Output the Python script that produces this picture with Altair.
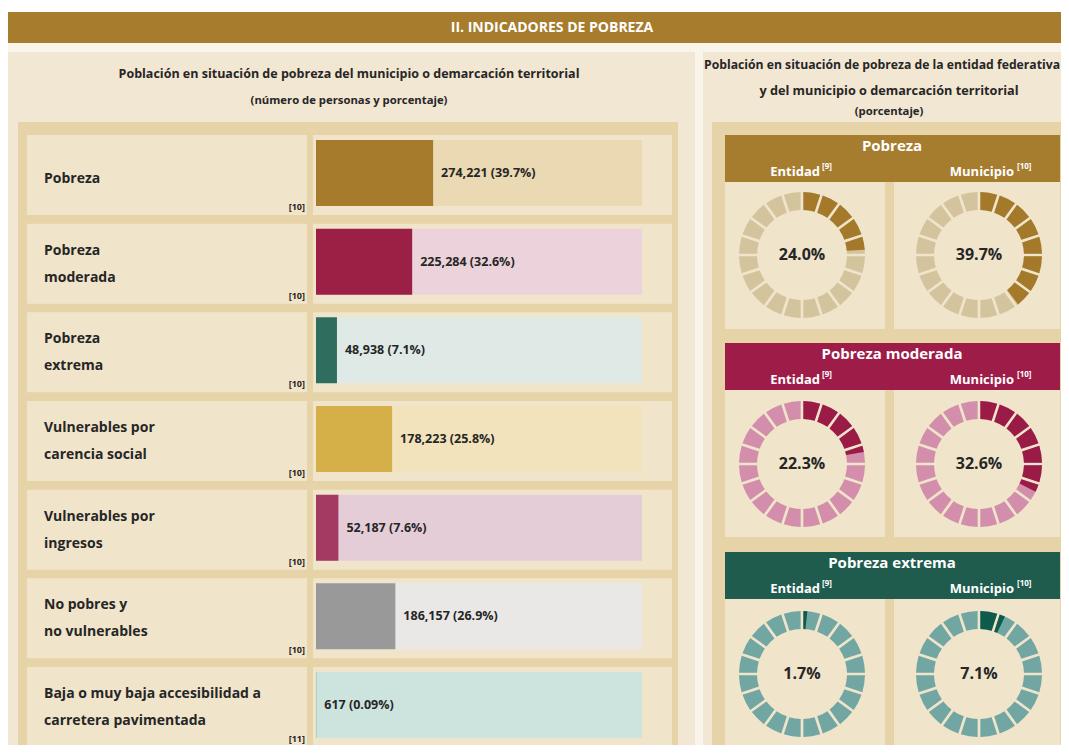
import math
import altair as alt
import pandas as pd

# ---------------- data ----------------
categories = [
    "Pobreza",
    "Pobreza moderada",
    "Pobreza extrema",
    "Vulnerables por carencia social",
    "Vulnerables por ingresos",
    "No pobres y no vulnerables",
    "Baja o muy baja accesibilidad a carretera pavimentada",
]
label_line1 = ["Pobreza", "Pobreza", "Pobreza", "Vulnerables por", "Vulnerables por",
               "No pobres y", "Baja o muy baja accesibilidad a"]
label_line2 = ["", "moderada", "extrema", "carencia social", "ingresos",
               "no vulnerables", "carretera pavimentada"]
persons = [274221, 225284, 48938, 178223, 52187, 186157, 617]
percents = [39.7, 32.6, 7.1, 25.8, 7.6, 26.9, 0.09]
notes = ["[10]", "[10]", "[10]", "[10]", "[10]", "[10]", "[11]"]

donut_titles = ["Pobreza", "Pobreza moderada", "Pobreza extrema"]
entidad_pct = [24.0, 22.3, 1.7]
municipio_pct = [39.7, 32.6, 7.1]

# ---------------- styles ----------------
FONT = "Open Sans"
bar_colors = ["#A67C2C", "#9C1F45", "#2F6E5E", "#D5AF48", "#A23A62", "#999999", "#5F9187"]
track_colors = ["#EAD9B3", "#EBD2DB", "#DFEAE7", "#F3E3BC", "#E5CDD8", "#EAE8E6", "#CCE3DE"]
donut_dark = ["#A47A2A", "#9A1B45", "#0E5B4C"]
donut_light = ["#D4C49E", "#D28EAA", "#72A6A2"]
header_colors = ["#A67C2E", "#9E1D48", "#1F5C4E"]
BROWN = "#A77D2D"
PANEL = "#F2E7D2"
FRAME = "#E7D3A8"
CELL = "#F0E4CB"
LIGHT = "#FAF5EA"
TXT = "#262626"

# ---------------- layout (page px) ----------------
M = 8
def P(v):
    return v - M

W, H = 1053, 737
sec_top = [135, 343, 552]
donut_cx = [802, 979]
donut_cy = [255, 464, 674]

# ---------------- tables ----------------
bars = pd.DataFrame({
    "cat": categories,
    "l1": label_line1,
    "l2": label_line2,
    "n": [1 if s == "" else 2 for s in label_line2],
    "pct": percents,
    "note": notes,
    "label": [f"{n:,} ({p:g}%)" for n, p in zip(persons, percents)],
    "bar_col": bar_colors,
    "track_col": track_colors,
})

boxes = [
    (8, 1069, 43, 753, LIGHT),
    (8, 1069, 12, 43, BROWN),
    (8, 695, 52, 753, PANEL),
    (703, 1069, 52, 753, PANEL),
    (18, 678, 122, 753, FRAME),
    (712, 1069, 122, 753, FRAME),
]
for s in range(3):
    t = sec_top[s]
    boxes.append((725, 1060, t, t + 47, header_colors[s]))
    boxes.append((725, 885, t + 47, t + 194, CELL))
    boxes.append((894, 1060, t + 47, t + 194, CELL))
box_df = pd.DataFrame([
    dict(x0=P(a), x1=P(b), y0=P(c), y1=P(d), col=e) for a, b, c, d, e in boxes
])

light_rows, dark_rows = [], []
for s in range(3):
    for side, vals in enumerate([entidad_pct, municipio_pct]):
        v = vals[s]
        for i in range(20):
            a, b = 5 * i, 5 * i + 5
            base = dict(cx=P(donut_cx[side]), cy=P(donut_cy[s]), t0=a)
            light_rows.append(dict(base, t1=b, col=donut_light[s]))
            if v > a:
                dark_rows.append(dict(base, t1=min(b, v), col=donut_dark[s]))
light_df = pd.DataFrame(light_rows)
dark_df = pd.DataFrame(dark_rows)

center_txt = [
    (552, 28, "II. INDICADORES DE POBREZA", 14, "white"),
    (349, 74, "Población en situación de pobreza del municipio o demarcación territorial", 12.5, TXT),
    (349, 101, "(número de personas y porcentaje)", 11.3, TXT),
    (882, 65, "Población en situación de pobreza de la entidad federativa", 12.2, TXT),
    (889, 91, "y del municipio o demarcación territorial", 12.7, TXT),
    (889, 112, "(porcentaje)", 11.3, TXT),
]
right_txt, left_txt = [], []
for s in range(3):
    t = sec_top[s]
    center_txt.append((892, t + 11, donut_titles[s], 15, "white"))
    right_txt.append((820, t + 37, "Entidad", 13, "white"))
    right_txt.append((1014, t + 37, "Municipio", 13, "white"))
    left_txt.append((822, t + 32, "[9]", 8, "white"))
    left_txt.append((1017, t + 32, "[10]", 8, "white"))
    center_txt.append((donut_cx[0], donut_cy[s], f"{entidad_pct[s]:.1f}%", 16, TXT))
    center_txt.append((donut_cx[1], donut_cy[s], f"{municipio_pct[s]:.1f}%", 16, TXT))

def tdf(items):
    return pd.DataFrame([dict(x=P(a), y=P(b), text=c, fs=d, col=e) for a, b, c, d, e in items])

# ---------------- encodings ----------------
def Y():
    return alt.Y("cat:N", axis=None,
                 scale=alt.Scale(type="band", domain=categories, range=[P(140), P(738)],
                                 paddingInner=0.2556, paddingOuter=0))

def XP():
    return alt.X("pct:Q", axis=None,
                 scale=alt.Scale(domain=[0, 110.5], range=[P(316), P(642)], nice=False, zero=True))

box_layer = alt.Chart(box_df).mark_rect().encode(
    x=alt.X("x0:Q", scale=None, axis=None), x2="x1:Q",
    y=alt.Y("y0:Q", scale=None, axis=None), y2="y1:Q",
    color=alt.Color("col:N", scale=None),
)

cell_lbl = alt.Chart(bars).mark_bar(height=80, yOffset=2, color=CELL).encode(
    x=alt.value(P(27)), x2=alt.value(P(307)), y=Y())
cell_bar = alt.Chart(bars).mark_bar(height=80, yOffset=2, color=CELL).encode(
    x=alt.value(P(313)), x2=alt.value(P(672)), y=Y())
tracks = alt.Chart(bars).mark_bar(height=66).encode(
    x=alt.value(P(316)), x2=alt.value(P(642)), y=Y(),
    color=alt.Color("track_col:N", scale=None))
bar_layer = alt.Chart(bars).mark_bar(height=66).encode(
    x=XP(), y=Y(), color=alt.Color("bar_col:N", scale=None))
val_text = alt.Chart(bars).mark_text(
    align="left", baseline="middle", dx=8, fontSize=12.5, fontWeight="bold",
    font=FONT, color=TXT).encode(x=XP(), y=Y(), text="label:N")

def lbl(field, dy, nl):
    return alt.Chart(bars).transform_filter(alt.datum.n == nl).mark_text(
        align="left", baseline="middle", dy=dy, fontSize=14, fontWeight="bold",
        font=FONT, color=TXT).encode(x=alt.value(P(44)), y=Y(), text=f"{field}:N")

note_text = alt.Chart(bars).mark_text(
    align="right", baseline="middle", dy=34, fontSize=9, fontWeight="bold",
    font=FONT, color=TXT).encode(x=alt.value(P(305)), y=Y(), text="note:N")

def arc_layer(df):
    return alt.Chart(df).mark_arc(radius=63, radius2=45, padAngle=0.035).encode(
        x=alt.X("cx:Q", scale=None, axis=None),
        y=alt.Y("cy:Q", scale=None, axis=None),
        theta=alt.Theta("t0:Q", stack=None,
                        scale=alt.Scale(domain=[0, 100], range=[0, 2 * math.pi], nice=False, zero=True)),
        theta2="t1:Q",
        color=alt.Color("col:N", scale=None),
    )

def text_layer(items, align):
    return alt.Chart(tdf(items)).mark_text(
        align=align, baseline="middle", fontWeight="bold", font=FONT).encode(
        x=alt.X("x:Q", scale=None, axis=None),
        y=alt.Y("y:Q", scale=None, axis=None),
        text="text:N",
        size=alt.Size("fs:Q", scale=None),
        color=alt.Color("col:N", scale=None),
    )

chart = alt.layer(
    box_layer, cell_lbl, cell_bar, tracks, bar_layer, val_text,
    lbl("l1", 6, 1), lbl("l1", -11, 2), lbl("l2", 16, 2), note_text,
    arc_layer(light_df), arc_layer(dark_df),
    text_layer(center_txt, "center"), text_layer(right_txt, "right"), text_layer(left_txt, "left"),
).resolve_scale(
    x="independent", y="independent", color="independent", theta="independent", size="independent"
).properties(
    width=W, height=H, padding=0, background="white",
    autosize=alt.AutoSizeParams(type="none"),
).configure_view(stroke=None)

chart.save("out.html", embed_options={"renderer": "svg", "actions": False})
